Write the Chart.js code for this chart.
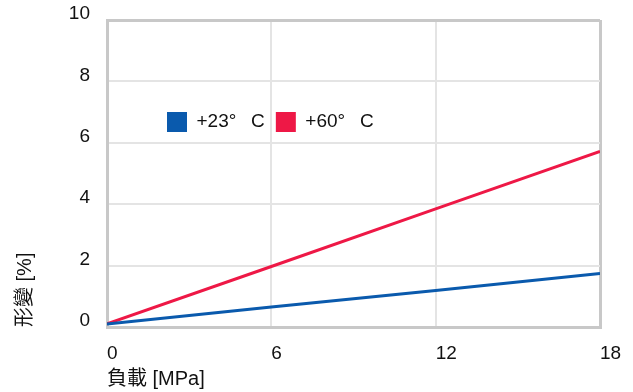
<!DOCTYPE html>
<html>
<head>
<meta charset="utf-8">
<script src="https://cdn.jsdelivr.net/npm/chart.js@4/dist/chart.umd.min.js"></script>
<style>
    html, body { margin: 0; padding: 0; background: #fff; }
    #chart-wrap { width: 633px; height: 392px; }
</style>
</head>
<body>
<div id="chart-wrap"><canvas id="chart-deformation" width="633" height="392"></canvas></div>
<script>
// load in MPa, deformation in %
const loads = [0, 6, 12, 18];
const deform23 = [0.1, 0.65, 1.19, 1.74];
const deform60 = [0.1, 1.97, 3.85, 5.72];
const seriesLabels = ['+23°\u2002 C', '+60°\u2002 C'];
const xTicks = [0, 6, 12, 18];
const yTicks = [0, 2, 4, 6, 8, 10];

const colors = {
    blue: '#0a5aad',
    red: '#ee1846',
    grid: '#e4e4e4',
    edge: '#c8c8c8',
    text: '#111'
};
const fontFamily = "'Liberation Sans', Arial, 'Noto Sans CJK TC', sans-serif";

const toPoints = (values) => values.map((v, i) => ({ x: loads[i], y: v }));

// legend sits inside the plot as one row
const legendPlacer = {
    id: 'legendPlacer',
    beforeLayout(chart) {
        if (chart.legend) chart.legend.isHorizontal = () => true;
    },
    afterLayout(chart) {
        const lg = chart.legend;
        const pad = chart.options.plugins.legend.labels.padding;
        const w = lg.width;
        const h = lg.height;
        lg.left = 167 - pad;
        lg.top = 112 - pad;
        lg.right = lg.left + w;
        lg.bottom = lg.top + h;
    }
};

const isEdge = (scale, value) => value === scale.min || value === scale.max;

const ctx = document.getElementById('chart-deformation');
const chart = new Chart(ctx, {
    type: 'line',
    data: {
        datasets: [{
            label: seriesLabels[0],
            data: toPoints(deform23),
            borderColor: colors.blue,
            backgroundColor: colors.blue,
            borderWidth: 3,
            pointRadius: 0,
            tension: 0
        }, {
            label: seriesLabels[1],
            data: toPoints(deform60),
            borderColor: colors.red,
            backgroundColor: colors.red,
            borderWidth: 3,
            pointRadius: 0,
            tension: 0
        }]
    },
    options: {
        responsive: false,
        devicePixelRatio: 1,
        animation: false,
        layout: {
            padding: { left: 0, top: 20, right: 33, bottom: 0 }
        },
        scales: {
            x: {
                type: 'linear',
                min: xTicks[0],
                max: xTicks[xTicks.length - 1],
                afterBuildTicks: (scale) => { scale.ticks = xTicks.map(v => ({ value: v })); },
                afterFit: (scale) => { scale.height = 65; },
                ticks: {
                    autoSkip: false,
                    maxRotation: 0,
                    align: 'start',
                    padding: 0,
                    color: colors.text,
                    font: { family: fontFamily, size: 19 }
                },
                grid: {
                    drawTicks: true,
                    tickLength: 15,
                    tickColor: 'rgba(0,0,0,0)',
                    color: (c) => isEdge(c.scale, c.tick.value) ? colors.edge : colors.grid,
                    lineWidth: (c) => isEdge(c.scale, c.tick.value) ? 3 : 2
                },
                border: { color: colors.edge, width: 3 },
                title: {
                    display: true,
                    text: '負載 [MPa]',
                    align: 'start',
                    color: colors.text,
                    font: { family: fontFamily, size: 20 },
                    padding: 1
                }
            },
            y: {
                min: yTicks[0],
                max: yTicks[yTicks.length - 1],
                afterBuildTicks: (scale) => { scale.ticks = yTicks.map(v => ({ value: v })); },
                afterFit: (scale) => { scale.width = 107; },
                ticks: {
                    padding: 0,
                    labelOffset: -6,
                    color: colors.text,
                    font: { family: fontFamily, size: 19 }
                },
                grid: {
                    drawTicks: true,
                    tickLength: 17,
                    tickColor: 'rgba(0,0,0,0)',
                    color: (c) => isEdge(c.scale, c.tick.value) ? colors.edge : colors.grid,
                    lineWidth: (c) => isEdge(c.scale, c.tick.value) ? 3 : 2
                },
                border: { color: colors.edge, width: 3 },
                title: {
                    display: true,
                    text: '形變 [%]',
                    align: 'start',
                    color: colors.text,
                    font: { family: fontFamily, size: 20 },
                    padding: 13
                }
            }
        },
        plugins: {
            legend: {
                position: 'chartArea',
                align: 'start',
                labels: {
                    boxWidth: 20,
                    boxHeight: 20,
                    padding: 11,
                    color: colors.text,
                    font: { family: fontFamily, size: 19 },
                    generateLabels: (c) => Chart.defaults.plugins.legend.labels.generateLabels(c)
                        .map(item => ({ ...item, lineWidth: 0 }))
                }
            },
            tooltip: { enabled: false }
        }
    },
    plugins: [legendPlacer]
});
</script>
</body>
</html>
